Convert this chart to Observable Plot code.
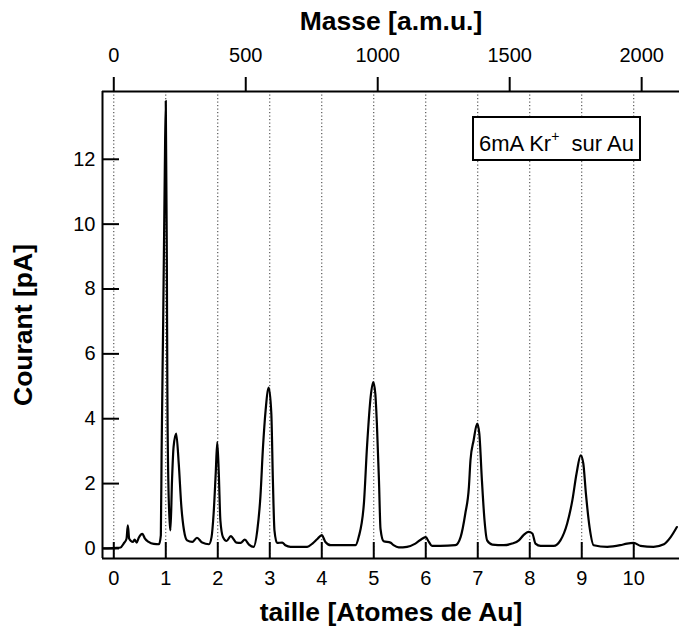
<!DOCTYPE html>
<html>
<head>
<meta charset="utf-8">
<script src="https://cdn.jsdelivr.net/npm/d3@7"></script>
<script src="https://cdn.jsdelivr.net/npm/@observablehq/plot@0.6"></script>
<style>
  html, body { margin: 0; padding: 0; background: #fff; }
  #wrap { position: relative; width: 679px; height: 637px; font-family: "Liberation Sans", Arial, Helvetica, sans-serif; }
  #note { position: absolute; left: 472px; top: 116px; width: 165px; height: 41px; border: 2px solid #000;
          font-size: 22px; line-height: 41px; text-align: center; color: #000; white-space: nowrap; background: #fff; }
  #note sup { font-size: 14px; position: relative; top: -2px; }
</style>
</head>
<body>
<div id="wrap"><div id="note">6mA Kr<sup>+</sup>&nbsp; sur Au</div></div>
<script>
// Cluster size (number of Au atoms) and measured current (pA)
const taille = [-0.19, 0.05, 0.13, 0.19, 0.245, 0.27, 0.296, 0.33, 0.37, 0.40, 0.44, 0.48, 0.55, 0.60, 0.67, 0.77, 0.87,
  0.905, 0.92, 0.95, 0.98, 1.0, 1.02, 1.03, 1.05, 1.08, 1.09, 1.12, 1.15, 1.2, 1.25, 1.3, 1.35, 1.41, 1.51, 1.60, 1.70, 1.83,
  1.88, 1.92, 1.96, 1.99, 2.02, 2.05, 2.10, 2.17, 2.25, 2.36, 2.44, 2.52, 2.60, 2.69, 2.76, 2.82, 2.87, 2.92, 2.98,
  3.03, 3.06, 3.09, 3.14, 3.24, 3.30, 3.40, 3.72, 3.82, 3.92, 4.0, 4.07, 4.17, 4.65, 4.71, 4.81, 4.87, 4.94, 4.99,
  5.03, 5.06, 5.10, 5.13, 5.19, 5.32, 5.38, 5.48, 5.64, 5.80, 5.93, 6.0, 6.06, 6.12, 6.28, 6.57, 6.67, 6.76, 6.83,
  6.86, 6.92, 6.99, 7.03, 7.08, 7.13, 7.18, 7.28, 7.50, 7.66, 7.79, 7.88, 7.98, 8.05, 8.11, 8.21, 8.46, 8.59, 8.72,
  8.82, 8.90, 8.98, 9.03, 9.08, 9.15, 9.23, 9.49, 9.74, 9.87, 10.0, 10.13, 10.38, 10.58, 10.71, 10.83];
const courant = [0.0, 0.02, 0.03, 0.15, 0.3, 0.71, 0.3, 0.23, 0.2, 0.27, 0.18, 0.33, 0.45, 0.3, 0.2, 0.14, 0.13,
  0.4, 3.0, 7.0, 11.5, 13.8, 9.0, 5.0, 2.0, 0.7, 0.56, 2.1, 3.13, 3.54, 2.6, 1.28, 0.56, 0.25, 0.2, 0.33, 0.18, 0.13,
  0.35, 1.07, 2.3, 3.28, 2.3, 0.87, 0.35, 0.23, 0.38, 0.18, 0.17, 0.27, 0.12, 0.05, 0.56, 1.6, 3.13, 4.26, 4.96,
  4.16, 2.1, 0.56, 0.17, 0.18, 0.1, 0.05, 0.05, 0.15, 0.3, 0.41, 0.2, 0.1, 0.1, 0.35, 1.38, 3.13, 4.67, 5.13,
  4.77, 3.85, 2.1, 0.6, 0.22, 0.18, 0.1, 0.03, 0.05, 0.15, 0.3, 0.35, 0.2, 0.08, 0.08, 0.1, 0.35, 1.07, 1.9,
  2.72, 3.33, 3.85, 3.54, 2.1, 0.87, 0.25, 0.12, 0.1, 0.15, 0.25, 0.41, 0.51, 0.46, 0.15, 0.08, 0.08, 0.25, 0.77,
  1.49, 2.31, 2.87, 2.62, 1.69, 0.66, 0.1, 0.05, 0.1, 0.15, 0.17, 0.08, 0.05, 0.13, 0.35, 0.66];

const xTicks = [0, 1, 2, 3, 4, 5, 6, 7, 8, 9, 10];
const yTicks = [0, 2, 4, 6, 8, 10, 12];
const massTicks = [0, 500, 1000, 1500, 2000];
const auMass = 197;
const xDomain = [-0.217, 10.88];
const yDomain = [-0.31, 14.09];

const data = taille.map((t, i) => ({taille: t, courant: courant[i]}));

const W = 679, H = 637, ML = 102, MR = 0, MT = 91, MB = 79;
const frameW = W - ML - MR, frameH = H - MT - MB;

const chart = Plot.plot({
  width: W, height: H,
  marginLeft: ML, marginRight: MR, marginTop: MT, marginBottom: MB,
  style: {fontFamily: "'Liberation Sans', Arial, Helvetica, sans-serif", color: "#000", background: "#fff", overflow: "visible"},
  x: {domain: xDomain},
  y: {domain: yDomain},
  marks: [
    Plot.ruleX(xTicks, {x: d => d, stroke: "#333", strokeWidth: 1, strokeDasharray: "1.2,2.3"}),
    Plot.line(data, {x: "taille", y: "courant", stroke: "#000", strokeWidth: 2.2, strokeLinejoin: "round", curve: "monotone-x"}),
    Plot.ruleX([xDomain[0]], {stroke: "#000", strokeWidth: 2}),
    Plot.ruleY([yDomain[0], yDomain[1]], {stroke: "#000", strokeWidth: 2}),
    Plot.tickX(xTicks, {x: d => d, stroke: "#000", strokeWidth: 2, insetTop: frameH - 16}),
    Plot.tickY(yTicks, {y: d => d, stroke: "#000", strokeWidth: 2, insetRight: frameW - 17}),
    Plot.axisX({anchor: "bottom", ticks: xTicks, tickSize: 0, tickPadding: 12, fontSize: 20, label: null, tickFormat: d => String(d)}),
    Plot.axisX({anchor: "top", ticks: massTicks.map(m => m / auMass), tickSize: 15, tickPadding: 15, strokeWidth: 2, fontSize: 20, label: null,
                tickFormat: d => String(Math.round(d * auMass))}),
    Plot.axisY({anchor: "left", ticks: yTicks, tickSize: 0, tickPadding: 7, fontSize: 20, label: null, tickFormat: d => String(d)}),
    Plot.text(["Masse [a.m.u.]"], {text: d => d, frameAnchor: "top", dy: -62, lineAnchor: "bottom", fontSize: 26.5, fontWeight: "bold"}),
    Plot.text(["taille [Atomes de Au]"], {text: d => d, frameAnchor: "bottom", dy: 62, lineAnchor: "bottom", fontSize: 26.5, fontWeight: "bold"}),
    Plot.text(["Courant [pA]"], {text: d => d, frameAnchor: "left", textAnchor: "middle", dx: -71, rotate: -90, lineAnchor: "bottom", fontSize: 26.5, fontWeight: "bold"})
  ]
});
document.getElementById("wrap").insertBefore(chart, document.getElementById("note"));
</script>
</body>
</html>
